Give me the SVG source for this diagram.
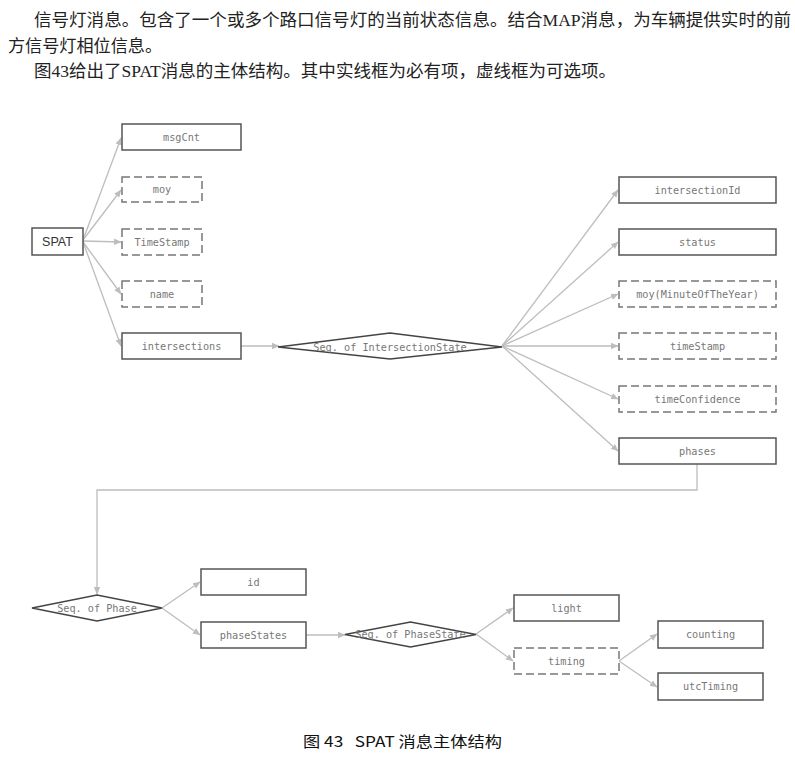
<svg xmlns="http://www.w3.org/2000/svg" width="795" height="761" viewBox="0 0 795 761">
<defs>
<marker id="ar" markerWidth="8" markerHeight="8" refX="7" refY="4" orient="auto" markerUnits="userSpaceOnUse">
<path d="M0,0.8 L7.5,4 L0,7.2 Z" fill="#bdbdbd"/>
</marker>
</defs>
<style>
.para{font-family:"Liberation Serif","Noto Sans CJK SC",serif;font-size:17px;fill:#222}
.cap{font-family:"Noto Sans CJK SC",sans-serif;font-size:15px;font-weight:normal;fill:#111}
.box{fill:#fff;stroke:#555;stroke-width:1.5}
.opt{fill:#fff;stroke:#777;stroke-width:1.5;stroke-dasharray:8,4}
.dia{fill:#fff;stroke:#444;stroke-width:1.5}
.lbl{font-family:"DejaVu Sans Mono","Liberation Mono",monospace;font-size:10.2px;fill:#777;text-anchor:middle}
.root{font-family:"Liberation Sans",sans-serif;font-size:12.5px;fill:#333;text-anchor:middle}
.con{fill:none;stroke:#bdbdbd;stroke-width:1.3;marker-end:url(#ar)}
</style>
<rect width="795" height="761" fill="#fff"/>
<text class="para" x="34" y="26" textLength="757" lengthAdjust="spacingAndGlyphs">信号灯消息。包含了一个或多个路口信号灯的当前状态信息。结合MAP消息，为车辆提供实时的前</text>
<text class="para" x="8" y="52" textLength="154" lengthAdjust="spacingAndGlyphs">方信号灯相位信息。</text>
<text class="para" x="34" y="77" textLength="582" lengthAdjust="spacingAndGlyphs">图43给出了SPAT消息的主体结构。其中实线框为必有项，虚线框为可选项。</text>

<g id="connectors">
<line class="con" x1="83" y1="240" x2="121" y2="138"/>
<line class="con" x1="83" y1="240" x2="121" y2="190"/>
<line class="con" x1="83" y1="241" x2="121" y2="242"/>
<line class="con" x1="83" y1="242" x2="121" y2="294"/>
<line class="con" x1="83" y1="242" x2="121" y2="346"/>
<line class="con" x1="241" y1="346" x2="279" y2="346"/>
<line class="con" x1="502" y1="346" x2="618" y2="190"/>
<line class="con" x1="502" y1="346" x2="618" y2="242"/>
<line class="con" x1="502" y1="346" x2="618" y2="294"/>
<line class="con" x1="502" y1="346" x2="618" y2="346"/>
<line class="con" x1="502" y1="346" x2="618" y2="399"/>
<line class="con" x1="502" y1="346" x2="618" y2="451"/>
<path class="con" d="M697,464 V490 H97 V594"/>
<line class="con" x1="162" y1="608" x2="200" y2="582"/>
<line class="con" x1="162" y1="608" x2="200" y2="635"/>
<line class="con" x1="306" y1="635" x2="345" y2="635"/>
<line class="con" x1="476" y1="634" x2="513" y2="608"/>
<line class="con" x1="476" y1="634" x2="513" y2="661"/>
<line class="con" x1="619" y1="661" x2="657" y2="634"/>
<line class="con" x1="619" y1="661" x2="657" y2="687"/>
</g>

<g id="spat"><rect class="box" x="32" y="228" width="51" height="27"/><text class="root" x="57.5" y="246">SPAT</text></g>
<g id="msgCnt"><rect class="box" x="122" y="124" width="119" height="26"/><text class="lbl" x="181.5" y="140.5">msgCnt</text></g>
<g id="moy"><rect class="opt" x="122" y="177" width="80" height="25"/><text class="lbl" x="162" y="193">moy</text></g>
<g id="timeStamp1"><rect class="opt" x="122" y="229" width="80" height="26"/><text class="lbl" x="162" y="245.5">TimeStamp</text></g>
<g id="name"><rect class="opt" x="122" y="281" width="80" height="26"/><text class="lbl" x="162" y="297.5">name</text></g>
<g id="intersections"><rect class="box" x="122" y="333" width="119" height="26"/><text class="lbl" x="181.5" y="349.5">intersections</text></g>

<g id="seqIntersectionState"><polygon class="dia" points="278,347 390,333 502,347 390,359"/><text class="lbl" x="390" y="350.5">Seq. of IntersectionState</text></g>

<g id="intersectionId"><rect class="box" x="619" y="177" width="157" height="26"/><text class="lbl" x="697.5" y="193.5">intersectionId</text></g>
<g id="status"><rect class="box" x="619" y="229" width="157" height="26"/><text class="lbl" x="697.5" y="245.5">status</text></g>
<g id="moy2"><rect class="opt" x="619" y="281" width="157" height="26"/><text class="lbl" x="697.5" y="297.5">moy(MinuteOfTheYear)</text></g>
<g id="timeStamp2"><rect class="opt" x="619" y="333" width="157" height="26"/><text class="lbl" x="697.5" y="349.5">timeStamp</text></g>
<g id="timeConfidence"><rect class="opt" x="619" y="386" width="157" height="26"/><text class="lbl" x="697.5" y="402.5">timeConfidence</text></g>
<g id="phases"><rect class="box" x="619" y="438" width="157" height="26"/><text class="lbl" x="697.5" y="454.5">phases</text></g>

<g id="seqPhase"><polygon class="dia" points="32,608 97,595 162,608 97,621"/><text class="lbl" x="97" y="611.5">Seq. of Phase</text></g>
<g id="id"><rect class="box" x="201" y="569" width="105" height="26"/><text class="lbl" x="253.5" y="585.5">id</text></g>
<g id="phaseStates"><rect class="box" x="201" y="622" width="105" height="26"/><text class="lbl" x="253.5" y="638.5">phaseStates</text></g>

<g id="seqPhaseState"><polygon class="dia" points="345,634.5 410.5,622 476,634.5 410.5,647"/><text class="lbl" x="410.5" y="638">Seq. of PhaseState</text></g>
<g id="light"><rect class="box" x="514" y="595" width="105" height="26"/><text class="lbl" x="566.5" y="611.5">light</text></g>
<g id="timing"><rect class="opt" x="514" y="648" width="105" height="26"/><text class="lbl" x="566.5" y="664.5">timing</text></g>
<g id="counting"><rect class="box" x="658" y="621" width="105" height="27"/><text class="lbl" x="710.5" y="638">counting</text></g>
<g id="utcTiming"><rect class="box" x="658" y="673" width="105" height="27"/><text class="lbl" x="710.5" y="690">utcTiming</text></g>

<text class="cap" x="303" y="747" textLength="199" lengthAdjust="spacingAndGlyphs" xml:space="preserve">图 43   SPAT 消息主体结构</text>
</svg>
